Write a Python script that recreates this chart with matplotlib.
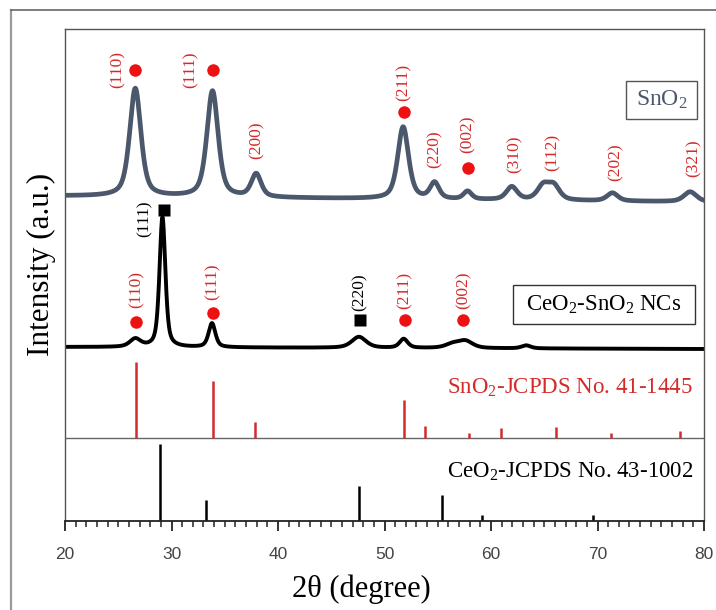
import numpy as np
import matplotlib
matplotlib.use("Agg")
import matplotlib.pyplot as plt
from matplotlib.lines import Line2D
from matplotlib.patches import Rectangle

plt.rcParams["font.family"] = ["Liberation Serif", "DejaVu Serif"]
plt.rcParams["mathtext.fontset"] = "custom"
plt.rcParams["mathtext.rm"] = "Liberation Serif"
plt.rcParams["mathtext.default"] = "rm"

# ---- data -------------------------------------------------------------
two_theta_range = (20, 80)

# SnO2 nanoparticle pattern: peak centre (deg), height, FWHM (deg)
sno2_centers = [26.6, 33.85, 37.95, 51.75, 54.7, 57.8, 61.95, 64.9, 65.9, 71.4, 78.7]
sno2_heights = [108, 106, 23, 72, 16, 8, 13, 14, 14, 8, 10]
sno2_fwhm = [1.25, 1.25, 1.1, 1.2, 1.0, 0.9, 1.2, 1.3, 1.3, 1.2, 1.4]
sno2_baseline = (325, 319)          # level at 20 deg and at 80 deg

# CeO2-SnO2 nanocomposite pattern
nc_centers = [26.6, 29.15, 33.8, 47.6, 51.8, 56.4, 57.6, 63.3]
nc_heights = [8, 130, 24, 11, 9, 4, 7, 3]
nc_fwhm = [1.2, 0.65, 0.75, 1.6, 0.9, 1.6, 1.6, 1.0]
nc_baseline = (174, 172)

# Reference patterns (relative intensity, %)
sno2_ref_pos = [26.7, 33.85, 37.8, 51.8, 53.8, 57.95, 60.9, 66.1, 71.3, 77.7]
sno2_ref_int = [100, 75, 21, 50, 16, 6, 13, 15, 7, 9]
ceo2_ref_pos = [28.9, 33.2, 47.6, 55.4, 59.2, 69.6]
ceo2_ref_int = [100, 28, 46, 34, 8, 8]

# Miller indices marked on the SnO2 pattern
sno2_hkl = ["(110)", "(111)", "(200)", "(211)", "(220)", "(002)", "(310)", "(112)", "(202)", "(321)"]
sno2_hkl_x = [24.9, 31.8, 38.0, 51.8, 54.7, 57.8, 62.2, 65.8, 71.7, 79.0]
sno2_hkl_y = [451, 451, 381, 439, 372, 387, 367, 369, 359, 363]
sno2_dot_x = [26.6, 33.9, 51.8, 57.8]
sno2_dot_y = [451, 451, 409, 353]

# Miller indices marked on the nanocomposite pattern
nc_sno2_hkl = ["(110)", "(111)", "(211)", "(002)"]
nc_sno2_x = [26.7, 33.9, 51.9, 57.4]
nc_sno2_label_y = [231, 239, 231, 231]
nc_sno2_dot_y = [199, 208, 201, 201]
nc_ceo2_hkl = ["(111)", "(220)"]
nc_ceo2_label_x = [27.5, 47.7]
nc_ceo2_label_y = [302, 229]
nc_ceo2_sq_x = [29.3, 47.7]
nc_ceo2_sq_y = [311, 201]

# ---- helpers ----------------------------------------------------------
def pseudo_voigt(x, c, h, w, eta=0.55):
    d = (x - c) / w
    lor = 1.0 / (1.0 + 4.0 * d ** 2)
    gau = np.exp(-4.0 * np.log(2) * d ** 2)
    return h * (eta * lor + (1 - eta) * gau)


def pattern(x, centers, heights, widths, base):
    y = np.interp(x, two_theta_range, base)
    for c, h, w in zip(centers, heights, widths):
        y = y + pseudo_voigt(x, c, h, w)
    return y


# ---- figure -----------------------------------------------------------
W, H = 716, 610
fig = plt.figure(figsize=(W / 100, H / 100), dpi=100)
ax = fig.add_axes([65 / W, 1 - 521 / H, (704 - 65) / W, (521 - 29) / H])
ax.set_xlim(*two_theta_range)
ax.set_ylim(0, 492)

x = np.linspace(20, 80, 3001)
ax.plot(x, pattern(x, sno2_centers, sno2_heights, sno2_fwhm, sno2_baseline),
        color="#4b586c", lw=3.4, solid_joinstyle="round")
ax.plot(x, pattern(x, nc_centers, nc_heights, nc_fwhm, nc_baseline),
        color="#000000", lw=2.8, solid_joinstyle="round")

# reference stick patterns
ref_split = 83
ax.axhline(ref_split, color="#666666", lw=1.0)
ax.vlines(sno2_ref_pos, ref_split, ref_split + np.array(sno2_ref_int) * 0.757,
          color="#d42a2a", lw=1.8)
ax.vlines(ceo2_ref_pos, 0, np.array(ceo2_ref_int) * 0.767,
          color="#000000", lw=1.8)

red = "#d42a2a"
dot_red = "#ee1111"
hkl_fs = 12.5
for lab, hx, hy in zip(sno2_hkl, sno2_hkl_x, sno2_hkl_y):
    ax.text(hx, hy, lab, rotation=90, ha="center", va="center",
            color=red, fontsize=hkl_fs)
ax.plot(sno2_dot_x, sno2_dot_y, "o", color=dot_red, ms=9, mec="none")

for lab, hx, hy, dy in zip(nc_sno2_hkl, nc_sno2_x, nc_sno2_label_y, nc_sno2_dot_y):
    ax.text(hx, hy, lab, rotation=90, ha="center", va="center",
            color=red, fontsize=hkl_fs)
    ax.plot(hx, dy, "o", color=dot_red, ms=9, mec="none")
for lab, lx, ly in zip(nc_ceo2_hkl, nc_ceo2_label_x, nc_ceo2_label_y):
    ax.text(lx, ly, lab, rotation=90, ha="center", va="center",
            color="black", fontsize=hkl_fs)
ax.plot(nc_ceo2_sq_x, nc_ceo2_sq_y, "s", color="black", ms=8.5, mec="none")

# sample name boxes
ax.add_patch(Rectangle((72.68, 402), 6.66, 38, fill=False, ec="#555555", lw=1.0))
ax.text(76.0, 421, "SnO$_2$", ha="center", va="center", fontsize=17, color="#4b586c")
ax.add_patch(Rectangle((62.07, 197), 17.08, 39, fill=False, ec="#333333", lw=1.0))
ax.text(70.6, 216.5, "CeO$_2$-SnO$_2$ NCs", ha="center", va="center", fontsize=16.5,
        color="black")

ax.text(78.97, 133, "SnO$_2$-JCPDS No. 41-1445", ha="right", va="center",
        fontsize=16.5, color=red)
ax.text(78.97, 49, "CeO$_2$-JCPDS No. 43-1002", ha="right", va="center",
        fontsize=16.5, color="black")

# axes styling
for side in ("top", "left", "right"):
    ax.spines[side].set_color("#555555")
    ax.spines[side].set_linewidth(1.0)
ax.spines["bottom"].set_color("#222222")
ax.spines["bottom"].set_linewidth(1.3)
ax.set_yticks([])
ax.set_xticks(range(20, 81, 10))
ax.set_xticks(range(20, 81, 1), minor=True)
ax.tick_params(axis="x", which="major", direction="out", length=7, width=1.3,
               color="#222222", pad=12, labelsize=12.5, labelcolor="#444444")
ax.tick_params(axis="x", which="minor", direction="out", length=4, width=1.1,
               color="#222222")
for t in ax.get_xticklabels():
    t.set_family(["Liberation Sans", "DejaVu Sans"])

fig.text(361 / W, 1 - 597 / H, "2θ (degree)", ha="center", va="baseline", fontsize=22)
fig.text(41 / W, 1 - 264 / H, "Intensity (a.u.)", rotation=90, ha="center",
         va="center", fontsize=22.5)

# outer frame
fig.add_artist(Line2D([11 / W, 11 / W], [0, 1 - 10 / H], transform=fig.transFigure,
                      color="#9a9a9a", lw=1.6))
fig.add_artist(Line2D([11 / W, 1], [1 - 10 / H, 1 - 10 / H], transform=fig.transFigure,
                      color="#666666", lw=1.2))

fig.savefig("out.png", dpi=100)
